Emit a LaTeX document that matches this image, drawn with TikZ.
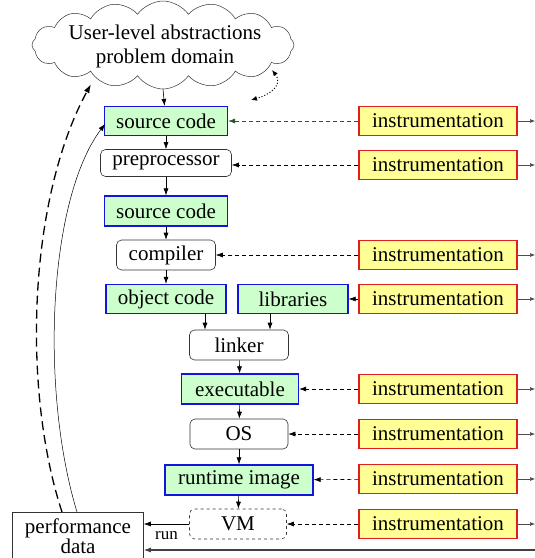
\documentclass[tikz,border=0pt]{standalone}
\usepackage{fontspec}
\setmainfont{Liberation Serif}
\usetikzlibrary{shapes.symbols,arrows.meta,calc}
\definecolor{boxgreen}{RGB}{204,255,204}
\definecolor{boxblue}{RGB}{20,20,220}
\definecolor{instyellow}{RGB}{255,255,150}
\definecolor{instred}{RGB}{225,30,30}
\definecolor{dgreen}{RGB}{40,90,40}
\tikzset{
  every node/.style={font=\fontsize{21}{23}\selectfont, inner sep=0pt, align=center},
  datab/.style={draw=boxblue, fill=boxgreen, line width=1.3pt, minimum height=29pt},
  toolb/.style={draw=black!80, rounded corners=5pt, line width=0.6pt, minimum height=29pt, fill=white},
  instb/.style={draw=instred, fill=instyellow, line width=1.3pt, minimum width=158pt, minimum height=29pt},
  arr/.style={-{Latex[length=7pt,width=5pt]}, line width=0.6pt},
  darr/.style={-{Latex[length=7pt,width=5pt]}, line width=0.6pt, dash pattern=on 4pt off 3pt},
  outl/.style={-{Latex[length=5pt,width=4pt]}, line width=0.6pt, black!70},
}
\begin{document}
\begin{tikzpicture}[x=1pt,y=-1pt]
\useasboundingbox (0,0) rectangle (535,558);
% cloud
\node[cloud, draw=black!80, line width=0.5pt, cloud puffs=16, cloud puff arc=110, cloud ignores aspect, minimum width=262pt, minimum height=88pt, fill=white] (cloud) at (163,45) {};
\node (cloudtxt) at (165,46) {User-level abstractions\\[1pt]problem domain};
% main chain
\node[datab, minimum width=123pt] (sc1) at (166,121) {source code};
\node[toolb, minimum width=131pt, minimum height=27pt] (prep) at (166,163) {preprocessor};
\node[datab, minimum width=123pt, minimum height=30pt] (sc2) at (166,211) {source code};
\node[toolb, minimum width=99pt, minimum height=30pt] (comp) at (166,255) {compiler};
\node[datab, minimum width=120pt] (obj) at (166,299) {object code};
\node[datab, minimum width=110pt] (lib) at (293,299) {libraries};
\node[toolb, minimum width=99pt, minimum height=30pt] (lnk) at (239,345) {linker};
\node[datab, minimum width=117pt, minimum height=30pt] (exe) at (240,389) {executable};
\node[toolb, minimum width=98pt, minimum height=30pt] (os) at (239,434) {OS};
\node[datab, minimum width=148pt, minimum height=30pt] (rti) at (239,480) {runtime image};
\node[toolb, dashed, minimum width=97pt, minimum height=30pt] (vm) at (238,524) {VM};
\node[draw=black!80, line width=0.6pt, minimum width=131pt, minimum height=48pt, fill=white] (perf) at (78,536) {performance\\[-3pt]data};
% instrumentation
\foreach \n/\y in {i1/121,i2/165,i3/255,i4/299,i5/389,i6/434,i7/479,i8/524}{
  \node[instb] (\n) at (438,\y) {instrumentation};
  \coordinate (\n r) at (535,\y);
  \draw[outl] (\n) -- (\n r);
}
% vertical flow
\draw[arr] (cloud.south) -- (sc1);
\draw[arr] (sc1) -- (prep);
\draw[arr] (prep) -- (sc2);
\draw[arr] (sc2) -- (comp);
\draw[arr] (comp) -- (obj);
\draw[arr] ([xshift=39pt]obj.south) -- ([xshift=39pt]obj.south |- lnk.north);
\draw[arr] ([xshift=-23pt]lib.south) -- ([xshift=-23pt]lib.south |- lnk.north);
\draw[arr] (lnk) -- (exe);
\draw[arr] (exe) -- (os);
\draw[arr] (os) -- (rti);
\draw[arr] (rti) -- (vm);
% instrumentation links
\draw[darr, dgreen] (i1) -- (sc1);
\draw[darr] (i2) -- (i2 -| prep.east);
\draw[darr] (i3) -- (comp);
\draw[darr] (i4) -- (lib);
\draw[darr] (i5) -- (exe);
\draw[darr] (i6) -- (os);
\draw[darr] (i7) -- (rti);
\draw[darr] (i8) -- (vm);
% run
\draw[arr] (vm) -- node[below=7pt, font=\fontsize{17}{19}\selectfont] (runlbl) {run} (vm -| perf.east);
% bottom bus
\coordinate (busR) at (535,550);
\draw[-{Latex[length=7pt,width=5pt]}, line width=1.1pt, black!75] (busR) -- (busR -| perf.east);
% feedback curves
\coordinate (dS) at (62,512);
\coordinate (dE) at (91,84);
\draw[-{Latex[length=9pt,width=6pt]}, line width=1.3pt, dash pattern=on 9pt off 5pt] (dS) .. controls (22,390) and (28,200) .. (dE);
\coordinate (sS) at (77,512);
\coordinate (sE) at (105,124);
\draw[arr, line width=0.5pt] (sS) .. controls (40,390) and (48,200) .. (sE);
% dotted double arrow
\coordinate (tA) at (272,70);
\coordinate (tB) at (251,100);
\draw[{Latex[length=6pt,width=5pt]}-{Latex[length=6pt,width=5pt]}, line width=1pt, dotted] (tA) .. controls (283,84) and (272,94) .. (tB);
\end{tikzpicture}
\end{document}
